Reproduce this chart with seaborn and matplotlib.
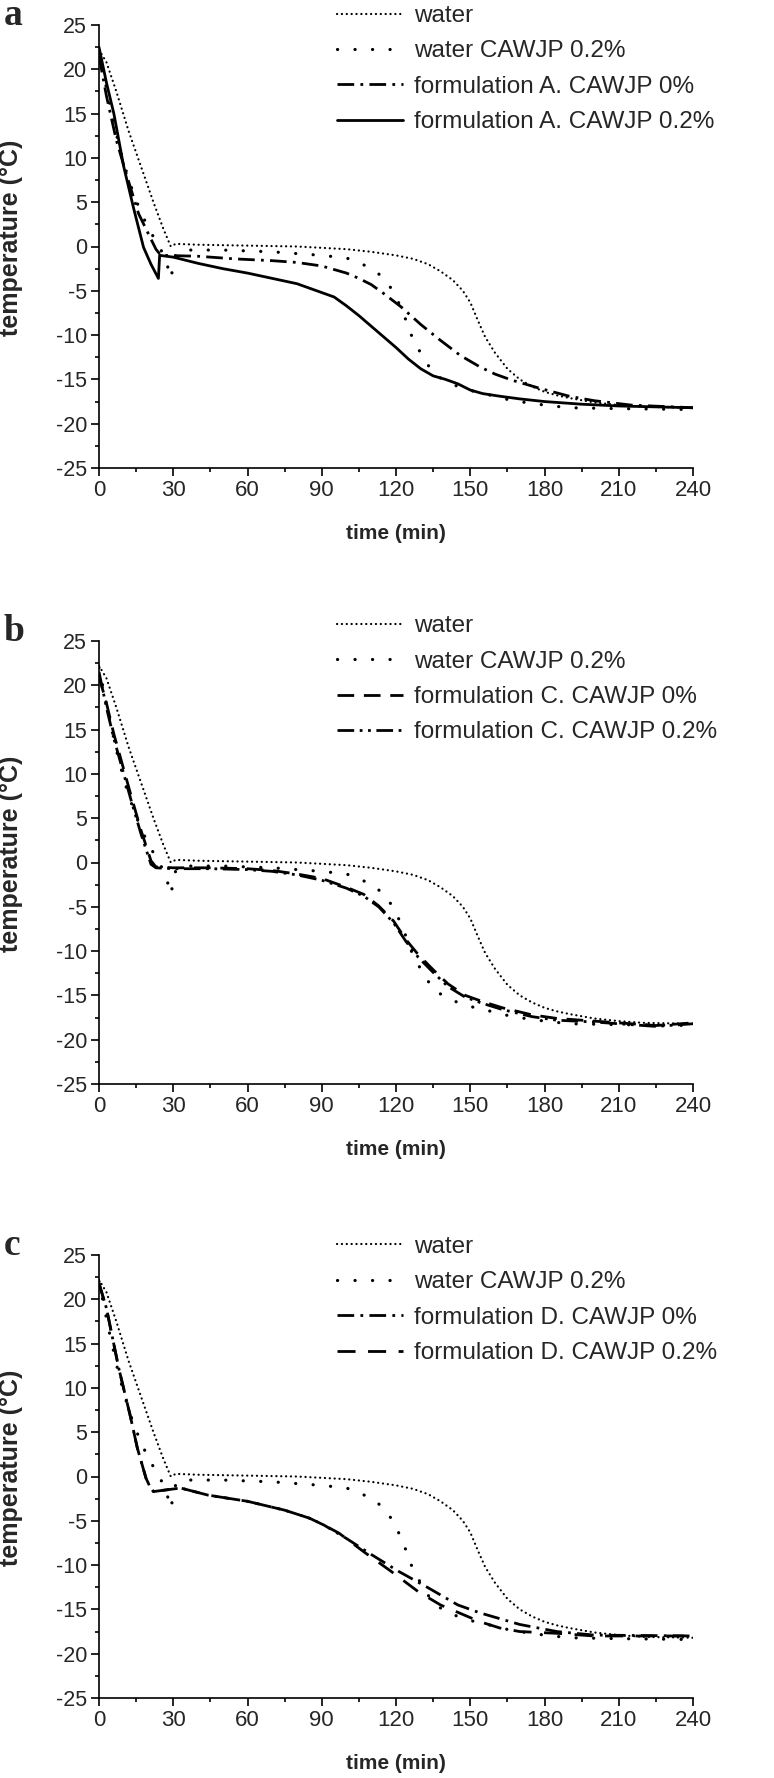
import matplotlib
matplotlib.use("Agg")
import matplotlib.pyplot as plt
from matplotlib.ticker import MultipleLocator
import seaborn as sns

# water and water + CAWJP 0.2% (same runs shown in every panel)
t_water = [0, 3, 7, 12, 17, 22, 26, 29, 31, 40, 60, 80, 100, 110, 120, 127, 133, 138,
           143, 147, 150, 153, 156, 160, 165, 170, 175, 180, 185, 190, 200, 210, 220, 240]
T_water = [22.2, 20.8, 17.5, 13.0, 9.0, 5.0, 2.0, 0.0, 0.3, 0.2, 0.1, 0.0, -0.3, -0.6,
           -1.0, -1.4, -2.0, -2.8, -3.8, -5.0, -6.3, -8.3, -10.2, -12.0, -13.8, -15.0,
           -15.8, -16.4, -16.8, -17.1, -17.6, -17.9, -18.1, -18.2]

t_water_cawjp = [0, 4, 8, 12, 16, 20, 24, 27, 29, 31, 34, 50, 70, 90, 100, 105, 110, 114,
                 118, 121, 124, 127, 131, 135, 140, 145, 152, 160, 167, 180, 190, 210, 240]
T_water_cawjp = [22.0, 16.5, 11.5, 7.5, 4.5, 2.0, 0.2, -1.5, -3.6, -0.9, -0.4, -0.4, -0.6,
                 -1.0, -1.3, -1.8, -2.5, -3.3, -4.7, -6.3, -8.3, -10.6, -12.5, -14.3,
                 -15.2, -15.8, -16.4, -16.9, -17.4, -17.9, -18.2, -18.3, -18.4]

# panel a: formulation A
t_A0 = [0, 3, 7, 11, 16, 20, 23, 25, 40, 55, 70, 80, 90, 100, 105, 110, 115, 122, 130,
        138, 146, 154, 160, 167, 178, 190, 200, 215, 240]
T_A0 = [21.5, 17.0, 12.0, 8.2, 3.7, 1.4, -0.3, -1.0, -1.1, -1.4, -1.6, -1.8, -2.2, -3.0,
        -3.6, -4.3, -5.3, -6.8, -8.8, -10.6, -12.3, -13.6, -14.4, -15.1, -16.0, -16.9,
        -17.4, -17.9, -18.2]
t_A02 = [0, 3, 6, 10, 14, 18, 21, 24, 24.5, 30, 40, 50, 60, 70, 80, 88, 95, 100, 105,
         110, 115, 120, 125, 130, 135, 140, 145, 150, 155, 162, 170, 180, 195, 210, 225, 240]
T_A02 = [22.5, 18.5, 15.0, 9.0, 4.3, -0.1, -2.0, -3.6, -1.0, -1.2, -1.9, -2.5, -3.0, -3.6,
         -4.2, -5.0, -5.7, -6.7, -7.8, -9.0, -10.2, -11.4, -12.7, -13.8, -14.6, -15.0,
         -15.5, -16.2, -16.6, -16.9, -17.2, -17.5, -17.8, -18.0, -18.1, -18.2]

# panel b: formulation C
t_C = [0, 3, 6, 9, 13, 17, 21, 23, 30, 45, 60, 70, 80, 90, 100, 107, 113, 119, 124, 129,
       135, 141, 148, 155, 163, 175, 185, 200, 215, 225, 240]
T_C0 = [21.0, 18.0, 14.5, 11.5, 7.5, 3.6, 0.2, -0.5, -0.6, -0.6, -0.7, -0.9, -1.3, -1.8,
        -2.8, -3.6, -4.9, -6.6, -8.7, -10.4, -12.1, -13.7, -15.0, -15.7, -16.4, -17.2,
        -17.6, -17.9, -18.2, -18.4, -18.1]
T_C02 = [21.5, 17.5, 14.0, 11.0, 7.0, 3.2, -0.2, -0.6, -0.7, -0.7, -0.8, -1.0, -1.4, -2.0,
         -2.9, -3.8, -5.0, -6.8, -8.9, -10.7, -12.4, -14.0, -15.2, -15.9, -16.6, -17.4,
         -17.8, -18.0, -18.3, -18.5, -18.2]

# panel c: formulation D
t_D0 = [0, 3, 8, 12.5, 15.5, 19, 20.5, 22, 33, 44, 60, 75, 85, 91, 100, 110, 121, 132,
        145, 154, 170, 185, 200, 240]
T_D0 = [21.8, 19.0, 12.2, 7.0, 3.2, -0.2, -1.1, -1.7, -1.3, -2.1, -2.8, -3.8, -4.7, -5.5,
        -7.0, -8.8, -10.7, -12.4, -14.5, -15.4, -16.7, -17.5, -17.9, -18.0]
t_D02 = [0, 3, 8, 12.5, 15.5, 19, 20.5, 22, 33, 44, 60, 75, 85, 91, 97, 107, 118, 129,
         138, 154, 162, 170, 185, 200, 240]
T_D02 = [21.8, 19.0, 12.2, 7.0, 3.2, -0.2, -1.1, -1.7, -1.3, -2.1, -2.8, -3.8, -4.7, -5.5,
         -6.4, -8.5, -10.7, -13.0, -14.5, -16.4, -17.1, -17.5, -17.7, -18.0, -18.0]

lab_water = "water"
lab_water_cawjp = "water CAWJP 0.2%"

sns.set_theme(style="ticks")
plt.rcParams["font.family"] = ["Liberation Sans", "DejaVu Sans"]
plt.rcParams["axes.unicode_minus"] = False
plt.rcParams["lines.scale_dashes"] = False

# line styles (dash patterns in points)
st_water = dict(lw=1.6, linestyle=(0, (0.1, 3.4)), dash_capstyle="round")
st_wcawjp = dict(lw=2.3, linestyle=(0, (0.1, 12.5)), dash_capstyle="round")
st_dashdot = dict(lw=2.0, linestyle=(0, (12, 4.5, 2, 4.5)))
st_solid = dict(lw=2.0, linestyle="-")
st_dash = dict(lw=2.0, linestyle=(0, (12, 7)))
st_dashdotdot = dict(lw=2.0, linestyle=(0, (12, 4, 2, 4, 2, 4)))
st_dash2 = dict(lw=2.0, linestyle=(0, (13, 9)))

panels = [
    ("a", [(t_water, T_water, lab_water, st_water),
           (t_water_cawjp, T_water_cawjp, lab_water_cawjp, st_wcawjp),
           (t_A0, T_A0, "formulation A. CAWJP 0%", st_dashdot),
           (t_A02, T_A02, "formulation A. CAWJP 0.2%", st_solid)], 1.045),
    ("b", [(t_water, T_water, lab_water, st_water),
           (t_water_cawjp, T_water_cawjp, lab_water_cawjp, st_wcawjp),
           (t_C, T_C0, "formulation C. CAWJP 0%", st_dash),
           (t_C, T_C02, "formulation C. CAWJP 0.2%", st_dashdotdot)], 1.058),
    ("c", [(t_water, T_water, lab_water, st_water),
           (t_water_cawjp, T_water_cawjp, lab_water_cawjp, st_wcawjp),
           (t_D0, T_D0, "formulation D. CAWJP 0%", st_dashdot),
           (t_D02, T_D02, "formulation D. CAWJP 0.2%", st_dash2)], 1.043),
]

W, H = 774, 1778
fig = plt.figure(figsize=(W / 100, H / 100), dpi=100)
tops = [25, 641, 1255]
ax_h = 443

for (letter, series, leg_y), top in zip(panels, tops):
    ax = fig.add_axes([99 / W, (H - top - ax_h) / H, 594 / W, ax_h / H])
    for tt, TT, lab, st in series:
        sns.lineplot(x=tt, y=TT, ax=ax, color="black", label=lab, sort=False,
                     estimator=None, **st)
    ax.set_xlim(0, 240)
    ax.set_ylim(-25, 25)
    ax.xaxis.set_major_locator(MultipleLocator(30))
    ax.xaxis.set_minor_locator(MultipleLocator(15))
    ax.yaxis.set_major_locator(MultipleLocator(5))
    ax.yaxis.set_minor_locator(MultipleLocator(2.5))
    sns.despine(ax=ax)
    for s in ("left", "bottom"):
        ax.spines[s].set_linewidth(1.2)
        ax.spines[s].set_color("black")
    ax.tick_params(which="major", length=5.5, width=1.2, color="black", pad=3)
    ax.tick_params(which="minor", length=3, width=1.2, color="black")
    for lbl in ax.get_xticklabels():
        lbl.set_fontsize(16)
    for lbl in ax.get_yticklabels():
        lbl.set_fontsize(15.5)

    ax.set_xlabel("time (min)", fontsize=15, fontweight="bold", va="center")
    ax.xaxis.set_label_coords(0.5, -0.147)
    ax.set_ylabel("temperature (°C)", fontsize=18, fontweight="bold", va="center")
    ax.yaxis.set_label_coords(-0.148, 0.52)

    ax.text(-0.16, 1.0, letter, transform=ax.transAxes, ha="left", va="baseline",
            fontsize=27, fontweight="bold", family=["Liberation Serif", "DejaVu Serif"])

    ax.legend(loc="upper left", bbox_to_anchor=(0.4007, leg_y), frameon=False,
              borderpad=0, borderaxespad=0, handlelength=2.7, handletextpad=0.45,
              labelspacing=0.55, fontsize=17.5)

fig.savefig("out.png", dpi=100)
